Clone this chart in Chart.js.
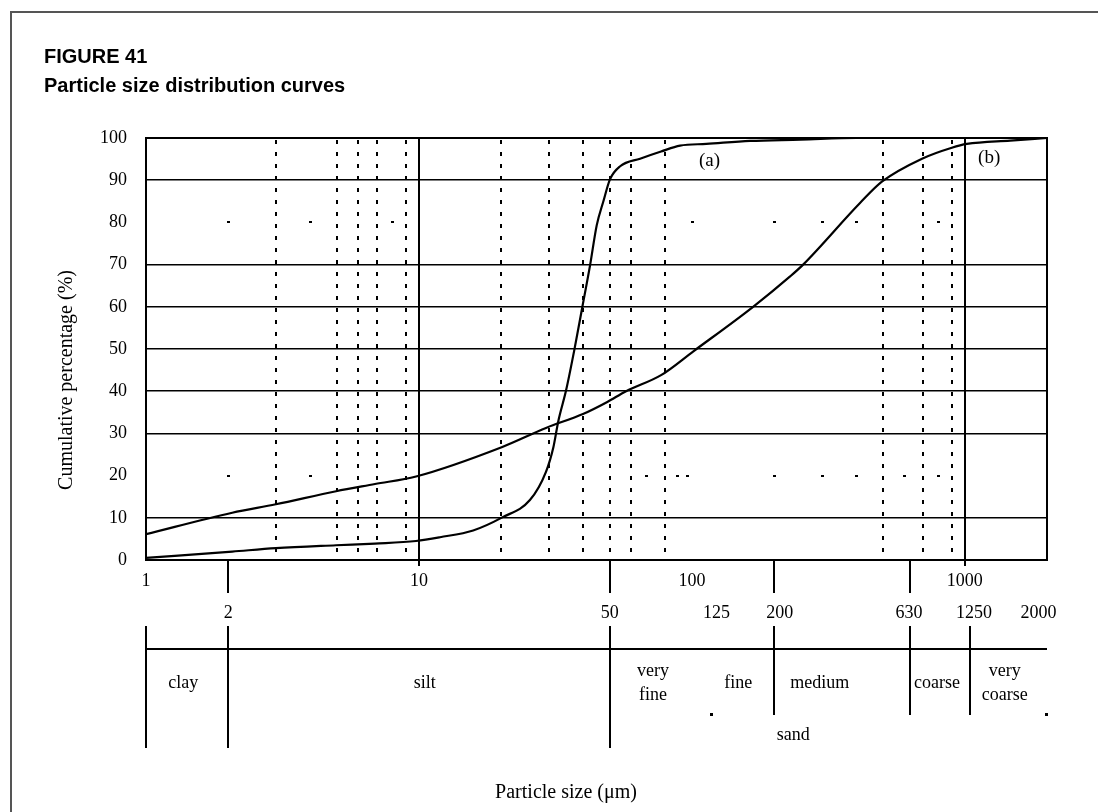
<!DOCTYPE html>
<html>
<head>
<meta charset="utf-8">
<script src="https://cdn.jsdelivr.net/npm/chart.js@4.4.1/dist/chart.umd.min.js"></script>
<style>
html,body{margin:0;padding:0;background:#fff;}
#wrap{position:relative;width:1098px;height:812px;}
canvas{display:block;}
</style>
</head>
<body>
<div id="wrap"><canvas id="c" width="1098" height="812"></canvas></div>
<script>
// ---------------- data ----------------
// curve (a): particle size (μm) and cumulative percentage (%)
const sizeA = [1, 2.07, 2.99, 4.97, 6.9, 9.76, 11.95, 15.8, 20.2, 25.5, 29.2, 31.1, 32.4, 34.6, 37.1, 39.7, 42.4, 44.8, 47.4, 50.1, 54.6, 64.6, 77.1, 90.5, 113, 163.5, 250, 400, 2000];
const pctA  = [0.5, 2.0, 2.8, 3.5, 3.9, 4.5, 5.4, 7.0, 10.1, 14.2, 20.9, 26.8, 32.9, 40.2, 49.8, 60.0, 70.0, 79.3, 85.0, 90.2, 93.3, 95.1, 96.8, 98.2, 98.6, 99.3, 99.6, 100, 100];
// curve (b)
const sizeB = [1, 2.07, 2.99, 4.97, 6.9, 9.76, 20.2, 29.2, 39.9, 48.8, 57.4, 77.1, 101, 167.6, 229, 255.6, 413, 498, 697, 896, 1017, 1466, 2000];
const pctB  = [6.1, 11.2, 13.2, 16.3, 18.0, 19.8, 26.8, 31.3, 34.6, 37.4, 40.0, 43.8, 49.4, 60.0, 67.2, 70.0, 84.6, 89.7, 95.1, 97.7, 98.6, 99.4, 100];

// axis ticks
const yTicks = [0, 10, 20, 30, 40, 50, 60, 70, 80, 90, 100];
const yGridSolid = [10, 30, 40, 50, 60, 70, 90];
const xMainTicks = [1, 10, 100, 1000];
const xSolidLines = [10, 1000];
const dashedSizes = [3, 5, 6, 7, 9, 20, 30, 40, 50, 60, 80, 500, 700, 900];

// faint remnants of the 20 % and 80 % rows
const row80Dots = [2, 4, 8, 100, 200, 300, 400, 800];
const row20Dots = [2, 4, 68, 88, 96, 200, 300, 400, 600, 800];

// size-class scale under the axis
const classLabels2 = ['2', '50', '125', '200', '630', '1250', '2000'];
const classLabels2At = [2, 50, 123, 210, 625, 1080, 1860];   // where the numbers sit in the figure
const fullBoundaries = [1, 2, 50];          // lines that run down through the whole table
const sandBoundaries = [200, 630, 1045];    // lines inside the sand band
const upperTickSizes = [2, 50, 200, 630];
const classNames = [
  {t: ['clay'], at: 1.37},
  {t: ['silt'], at: 10.5},
  {t: ['very', 'fine'], at: 72},
  {t: ['fine'], at: 148},
  {t: ['medium'], at: 294},
  {t: ['coarse'], at: 790},
  {t: ['very', 'coarse'], at: 1400}
];
const sandLabelAt = 235;
const sandEnds = [118, 2000];

const SERIF = '"Liberation Serif", "Times New Roman", serif';
const SANS = '"Liberation Sans", Arial, sans-serif';

const extras = {
  id: 'extras',
  afterDraw(chart) {
    const {ctx, chartArea: a, scales: {x, y}} = chart;
    const px = v => x.getPixelForValue(v);
    const py = v => y.getPixelForValue(v);
    ctx.save();

    // outer frame
    ctx.strokeStyle = '#555';
    ctx.lineWidth = 2;
    ctx.beginPath();
    ctx.moveTo(11, 812); ctx.lineTo(11, 12); ctx.lineTo(1098, 12);
    ctx.stroke();

    // title
    ctx.fillStyle = '#000';
    ctx.font = 'bold 20px ' + SANS;
    ctx.textAlign = 'left';
    ctx.textBaseline = 'alphabetic';
    ctx.fillText('FIGURE 41', 44, 63);
    ctx.fillText('Particle size distribution curves', 44, 92);

    // dashed verticals
    ctx.strokeStyle = '#000';
    ctx.lineWidth = 2;
    ctx.setLineDash([4, 8]);
    dashedSizes.forEach(v => {
      const X = Math.round(px(v));
      ctx.beginPath(); ctx.moveTo(X, a.top + 2); ctx.lineTo(X, a.bottom); ctx.stroke();
    });
    ctx.setLineDash([]);

    // faint dot remnants on the 20% / 80% rows
    ctx.fillStyle = '#000';
    row80Dots.forEach(v => ctx.fillRect(Math.round(px(v)) - 1, Math.round(py(80)) - 1, 3, 2));
    row20Dots.forEach(v => ctx.fillRect(Math.round(px(v)) - 1, Math.round(py(20)) - 1, 3, 2));

    // plot border
    ctx.lineWidth = 2;
    ctx.strokeRect(a.left, a.top, a.right - a.left, a.bottom - a.top);

    // (a) (b) labels
    ctx.font = '19px ' + SERIF;
    ctx.textAlign = 'center';
    ctx.textBaseline = 'middle';
    ctx.fillText('(a)', px(116), py(94.6));
    ctx.fillText('(b)', px(1228), py(95.3));

    // long ticks under the axis
    ctx.lineWidth = 2;
    upperTickSizes.forEach(v => {
      const X = Math.round(px(v));
      ctx.beginPath(); ctx.moveTo(X, a.bottom); ctx.lineTo(X, 593); ctx.stroke();
    });

    // second row of size numbers
    ctx.font = '18px ' + SERIF;
    classLabels2.forEach((t, i) => ctx.fillText(t, px(classLabels2At[i]), 613));

    // size class table
    fullBoundaries.forEach(v => {
      const X = Math.round(px(v));
      ctx.beginPath(); ctx.moveTo(X, 626); ctx.lineTo(X, 748); ctx.stroke();
    });
    sandBoundaries.forEach(v => {
      const X = Math.round(px(v));
      ctx.beginPath(); ctx.moveTo(X, 626); ctx.lineTo(X, 715); ctx.stroke();
    });
    ctx.beginPath(); ctx.moveTo(a.left, 649); ctx.lineTo(a.right, 649); ctx.stroke();

    ctx.font = '18px ' + SERIF;
    classNames.forEach(c => {
      const X = px(c.at);
      if (c.t.length === 1) ctx.fillText(c.t[0], X, 683);
      else { ctx.fillText(c.t[0], X, 671); ctx.fillText(c.t[1], X, 695); }
    });
    ctx.fillText('sand', px(sandLabelAt), 735);
    sandEnds.forEach(v => ctx.fillRect(Math.round(px(v)) - 2, 713, 3, 3));

    // axis titles
    ctx.font = '20px ' + SERIF;
    ctx.fillText('Particle size (μm)', 566, 793);
    ctx.save();
    ctx.translate(67, 380);
    ctx.rotate(-Math.PI / 2);
    ctx.fillText('Cumulative percentage (%)', 0, 0);
    ctx.restore();

    ctx.restore();
  }
};

const toPts = (xs, ys) => xs.map((v, i) => ({x: v, y: ys[i]}));

new Chart(document.getElementById('c'), {
  type: 'line',
  data: {
    datasets: [
      {label: '(a)', data: toPts(sizeA, pctA), borderColor: '#000', borderWidth: 2.2, pointRadius: 0, cubicInterpolationMode: 'monotone', fill: false},
      {label: '(b)', data: toPts(sizeB, pctB), borderColor: '#000', borderWidth: 2.2, pointRadius: 0, cubicInterpolationMode: 'monotone', fill: false}
    ]
  },
  options: {
    responsive: false,
    animation: false,
    devicePixelRatio: 1,
    layout: {padding: {left: 0, top: 138, right: 51, bottom: 0}},
    plugins: {legend: {display: false}, tooltip: {enabled: false}, title: {display: false}},
    scales: {
      x: {
        type: 'logarithmic',
        min: 1, max: 2000,
        afterBuildTicks: s => { s.ticks = xMainTicks.map(v => ({value: v})); },
        afterFit: s => { s.height = 252; },
        border: {display: false},
        grid: {
          color: c => xSolidLines.includes(c.tick && c.tick.value) ? '#000' : 'rgba(0,0,0,0)',
          tickColor: c => xSolidLines.includes(c.tick && c.tick.value) ? '#000' : 'rgba(0,0,0,0)',
          lineWidth: 2, tickWidth: 2, tickLength: 6, drawTicks: true
        },
        ticks: {
          autoSkip: false, maxRotation: 0, padding: 4, color: '#000',
          font: {family: SERIF, size: 18},
          callback: v => String(v)
        }
      },
      y: {
        type: 'linear',
        min: 0, max: 100,
        afterBuildTicks: s => { s.ticks = yTicks.map(v => ({value: v})); },
        afterFit: s => { s.width = 146; },
        border: {display: false},
        grid: {
          color: c => yGridSolid.includes(c.tick && c.tick.value) ? '#000' : 'rgba(0,0,0,0)',
          lineWidth: 1.6, drawTicks: false
        },
        ticks: {
          padding: 19, color: '#000',
          font: {family: SERIF, size: 18},
          callback: v => String(v)
        }
      }
    }
  },
  plugins: [extras]
});
</script>
</body>
</html>
